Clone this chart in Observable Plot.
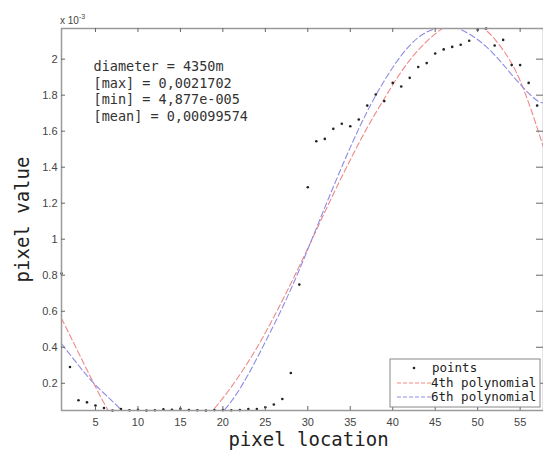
<!DOCTYPE html>
<html><head><meta charset="utf-8">
<script src="https://cdn.jsdelivr.net/npm/d3@7"></script>
<script src="https://cdn.jsdelivr.net/npm/@observablehq/plot@0.6"></script>
<style>body{margin:0;background:#fff;overflow:hidden}</style>
</head><body><div id="chart"></div>
<script>
// pixel location 1..58, pixel value (x 10^-3)
const locations = Array.from({length: 58}, (_, i) => i + 1);
const values = [0.81, 0.29, 0.106, 0.094, 0.076, 0.063, 0.049, 0.057, 0.05, 0.052,
  0.049, 0.05, 0.055, 0.053, 0.058, 0.051, 0.05, 0.049, 0.051, 0.051,
  0.05, 0.051, 0.057, 0.057, 0.067, 0.082, 0.113, 0.257, 0.748, 1.289,
  1.544, 1.557, 1.613, 1.641, 1.627, 1.665, 1.742, 1.804, 1.767, 1.868,
  1.848, 1.896, 1.956, 1.978, 2.031, 2.054, 2.068, 2.080, 2.102, 2.163,
  2.1702, 2.076, 2.107, 1.967, 1.967, 1.868, 1.742, 1.62];
// fitted curves
const fitX = [1, 3, 5, 7, 9, 11, 13, 15, 17, 19, 21, 23, 25, 27, 29, 31, 33, 35, 37, 39, 41, 43, 45, 47, 49, 51, 53, 55, 57, 58];
const fit4 = [0.56, 0.37, 0.18, 0.01, -0.11, -0.17, -0.17, -0.12, -0.04, 0.06, 0.18, 0.32, 0.48, 0.66, 0.85, 1.05, 1.25, 1.44, 1.62, 1.78, 1.93, 2.05, 2.14, 2.20, 2.21, 2.16, 2.05, 1.88, 1.62, 1.47];
const fit6 = [0.42, 0.30, 0.19, 0.10, 0.01, -0.05, -0.08, -0.08, -0.05, 0.0, 0.10, 0.25, 0.43, 0.62, 0.83, 1.06, 1.29, 1.51, 1.71, 1.88, 2.02, 2.12, 2.17, 2.18, 2.14, 2.07, 1.97, 1.86, 1.77, 1.76];
const xTicks = [5, 10, 15, 20, 25, 30, 35, 40, 45, 50, 55];
const yTicks = [0.2, 0.4, 0.6, 0.8, 1, 1.2, 1.4, 1.6, 1.8, 2];
const yMin = 0.04877, yMax = 2.1702;
const notes = ["diameter = 4350m", "[max] = 0,0021702", "[min] = 4,877e-005", "[mean] = 0,00099574"];
const legendLabels = ["points", "4th polynomial", "6th polynomial"];

const red = "#f08888", blue = "#8c8ce6";
const mono = "'DejaVu Sans Mono', 'Liberation Mono', monospace";
const sans = "'Liberation Sans', Arial, sans-serif";

const pts = locations.map((x, i) => ({x, v: values[i]}));
const c4 = fitX.map((x, i) => ({x, v: fit4[i]}));
const c6 = fitX.map((x, i) => ({x, v: fit6[i]}));

const W = 543, H = 452, mL = 61, mT = 28, mB = 42, mR = 0;
const innerH = H - mT - mB, innerW = W - mL - mR;
const tick = 4;

const chart = Plot.plot({
  width: W, height: H,
  marginLeft: mL, marginTop: mT, marginBottom: mB, marginRight: mR,
  x: {domain: [1, 57.75]},
  y: {domain: [yMin, yMax]},
  style: {background: "#fff"},
  marks: [
    Plot.line(c4, {x: "x", y: "v", stroke: red, strokeWidth: 1.1, strokeDasharray: "6,3", curve: "natural", clip: true}),
    Plot.line(c6, {x: "x", y: "v", stroke: blue, strokeWidth: 1.1, strokeDasharray: "6,3", curve: "natural", clip: true}),
    Plot.dot(pts, {x: "x", y: "v", r: 1.3, fill: "#222", stroke: null}),
    Plot.frame({stroke: "#9a9a9a", strokeWidth: 1.5}),
    Plot.tickX(xTicks, {x: d => d, insetTop: innerH - tick, stroke: "#666"}),
    Plot.tickX(xTicks, {x: d => d, insetBottom: innerH - tick, stroke: "#666"}),
    Plot.tickY(yTicks, {y: d => d, insetRight: innerW - tick, stroke: "#666"}),
    Plot.tickY(yTicks, {y: d => d, insetLeft: innerW - tick - 3, stroke: "#666"}),
    Plot.axisX(xTicks, {tickSize: 0, tickPadding: 8, fontSize: 11, fontFamily: sans, fill: "#444", label: null}),
    Plot.axisY(yTicks, {tickSize: 0, tickPadding: 4, fontSize: 11, fontFamily: sans, fill: "#444", label: null, tickFormat: d => String(d)}),
    Plot.text([notes.join("\n")], {frameAnchor: "top-left", textAnchor: "start", lineAnchor: "top", dx: 32, dy: 31, fontSize: 13.5, fontFamily: mono, fill: "#333", lineHeight: 1.23}),
    Plot.text(["pixel location"], {frameAnchor: "bottom", textAnchor: "middle", dx: 6, dy: 29, fontSize: 19, fontFamily: mono, fill: "#222", lineAnchor: "middle"}),
    Plot.text(["pixel value"], {frameAnchor: "left", textAnchor: "middle", dx: -39, dy: 0, rotate: -90, fontSize: 19, fontFamily: mono, fill: "#222", lineAnchor: "middle"})
  ]
});

const svg = d3.select(chart);
// exponent label
const ex = svg.append("text").attr("x", 60).attr("y", 24).attr("text-anchor", "start").attr("font-family", sans).attr("font-size", 10).attr("fill", "#444");
ex.append("tspan").text("x 10");
ex.append("tspan").attr("dy", -5).attr("font-size", 7).text("-3");

// legend
const lg = svg.append("g").attr("text-anchor", "start");
lg.append("rect").attr("x", 390).attr("y", 359).attr("width", 150).attr("height", 48).attr("fill", "#fff").attr("stroke", "#888").attr("stroke-width", 1);
const rowsY = [368, 383, 397];
lg.append("circle").attr("cx", 414).attr("cy", rowsY[0]).attr("r", 1.3).attr("fill", "#222");
lg.append("line").attr("x1", 397).attr("x2", 431).attr("y1", rowsY[1]).attr("y2", rowsY[1]).attr("stroke", red).attr("stroke-dasharray", "4,2");
lg.append("line").attr("x1", 397).attr("x2", 431).attr("y1", rowsY[2]).attr("y2", rowsY[2]).attr("stroke", blue).attr("stroke-dasharray", "4,2");
legendLabels.forEach((t, i) => {
  lg.append("text").attr("x", i === 0 ? 432 : 431).attr("y", rowsY[i]).attr("dy", "0.35em")
    .attr("font-family", mono).attr("font-size", 12.5).attr("fill", "#222").text(t);
});

document.getElementById("chart").appendChild(chart);
</script>
</body></html>
